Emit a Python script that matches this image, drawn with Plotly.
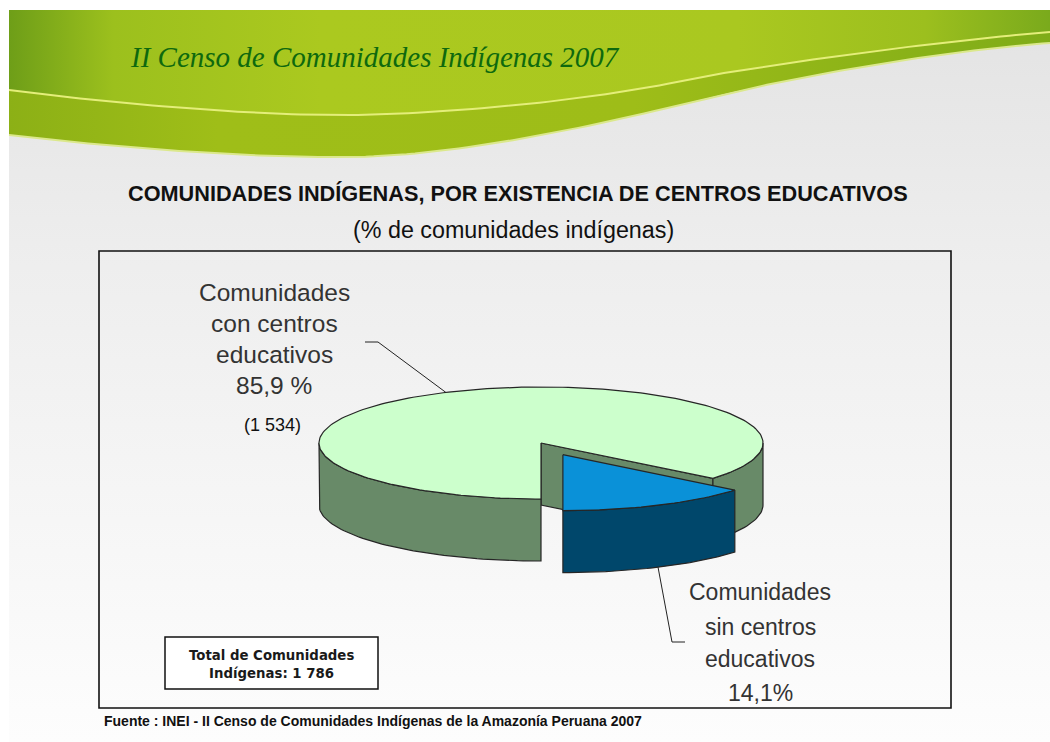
import numpy as np
import plotly.graph_objects as go

# ---------------- data ----------------
categories = ["Comunidades con centros educativos", "Comunidades sin centros educativos"]
percent = [85.9, 14.1]
label_pct = ["85,9 %", "14,1%"]
count_con = "(1 534)"
total_comunidades = "1 786"

title_banner = "II Censo de Comunidades Indígenas 2007"
chart_title = "COMUNIDADES INDÍGENAS, POR EXISTENCIA DE CENTROS EDUCATIVOS"
chart_subtitle = "(% de comunidades indígenas)"
source_text = "Fuente : INEI - II Censo de Comunidades Indígenas de la Amazonía Peruana 2007"

# ---------------- layout constants ----------------
W, H_FIG = 1050, 742
CX, CY = 541.0, 443.0      # pie centre (top face)
RA, RB = 222.0, 56.0       # ellipse semi-axes
DEPTH = 62.0               # pie thickness
START = 90.0               # degrees, screen coords (y down)
EXPLODE = [0.0, 0.23]
TOP_COL = ["#ccffcc", "#0a91d8"]
SIDE_COL = ["#688a68", "#00476b"]
EDGE = "#262626"

fig = go.Figure()


def add_poly(xs, ys, fill=None, line_col=None, lw=0.0, grad=None):
    kw = dict(x=list(xs) + [xs[0]], y=list(ys) + [ys[0]], mode="lines",
              fill="toself", hoverinfo="skip", showlegend=False,
              line=dict(color=line_col if line_col else "rgba(0,0,0,0)", width=lw))
    if grad is not None:
        kw["fillgradient"] = grad
    else:
        kw["fillcolor"] = fill
    fig.add_trace(go.Scatter(**kw))


def bez(p0, p1, p2, p3, n=40):
    t = np.linspace(0, 1, n)
    x = (1 - t) ** 3 * p0[0] + 3 * (1 - t) ** 2 * t * p1[0] + 3 * (1 - t) * t ** 2 * p2[0] + t ** 3 * p3[0]
    y = (1 - t) ** 3 * p0[1] + 3 * (1 - t) ** 2 * t * p1[1] + 3 * (1 - t) * t ** 2 * p2[1] + t ** 3 * p3[1]
    return list(x), list(y)


def curve(segs):
    xs, ys = [], []
    for s in segs:
        x, y = bez(*s)
        xs += x
        ys += y
    return xs, ys


# ---------------- background ----------------
add_poly([9, W, W, 9], [10, 10, H_FIG, H_FIG],
         grad=dict(type="vertical", start=10, stop=H_FIG,
                   colorscale=[[0, "#e3e3e3"], [0.35, "#eeeeee"], [1, "#fdfdfd"]]))

# ---------------- banner ----------------
hi_segs = [((9, 90), (100, 102), (250, 116), (350, 115)),
           ((350, 115), (450, 114), (600, 100), (700, 77)),
           ((700, 77), (800, 60), (950, 40), (1050, 32))]
lo_segs = [((9, 135), (120, 148), (250, 158), (350, 157)),
           ((350, 157), (450, 156), (580, 130), (700, 100)),
           ((700, 100), (800, 75), (950, 50), (1050, 43))]
hx, hy = curve(hi_segs)
lx, ly = curve(lo_segs)

add_poly([9, W] + hx[::-1], [10, 10] + hy[::-1],
         grad=dict(type="horizontal", start=9, stop=W,
                   colorscale=[[0, "#6e9e18"], [0.1, "#9cc01d"], [0.3, "#abc91f"],
                               [0.7, "#aac820"], [0.88, "#9cbf1e"], [1, "#7aaa1c"]]))
add_poly(hx + lx[::-1], hy + ly[::-1],
         grad=dict(type="horizontal", start=9, stop=W,
                   colorscale=[[0, "#8cb016"], [0.2, "#9fbe18"], [0.6, "#9ebd18"],
                               [1, "#7fac18"]]))
fig.add_trace(go.Scatter(x=hx, y=hy, mode="lines", hoverinfo="skip", showlegend=False,
                         line=dict(color="#e4ee7a", width=2)))
fig.add_trace(go.Scatter(x=lx, y=ly, mode="lines", hoverinfo="skip", showlegend=False,
                         line=dict(color="#dbe88c", width=2)))

# ---------------- 3D pie ----------------
def arc(t1, t2, ox, oy, dz=0.0, n=None):
    if n is None:
        n = max(4, int(abs(t2 - t1) / 1.5))
    t = np.radians(np.linspace(t1, t2, n))
    return list(CX + ox + RA * np.cos(t)), list(CY + oy + dz + RB * np.sin(t))


total = sum(percent)
slices = []
t = START
for i, p in enumerate(percent):
    span = 360.0 * p / total
    t1, t2 = t, t + span
    mid = np.radians((t1 + t2) / 2)
    ox = EXPLODE[i] * RA * np.cos(mid)
    oy = EXPLODE[i] * RB * np.sin(mid)
    slices.append((t1, t2, ox, oy, (t1 + t2) / 2))
    t = t2

for i, (t1, t2, ox, oy, tm) in enumerate(slices):
    cx, cy = CX + ox, CY + oy
    # radial walls
    for tt, vis in ((t1, -np.cos(np.radians(t1))), (t2, np.cos(np.radians(t2)))):
        if vis > 1e-6:
            px = cx + RA * np.cos(np.radians(tt))
            py = cy + RB * np.sin(np.radians(tt))
            add_poly([cx, px, px, cx], [cy, py, py + DEPTH, cy + DEPTH],
                     fill=SIDE_COL[i], line_col=EDGE, lw=1.2)
    # outer wall (front half only)
    for k in range(-1, 3):
        lo, hi = max(t1, 360 * k), min(t2, 360 * k + 180)
        if hi > lo:
            ax, ay = arc(lo, hi, ox, oy)
            bx, by = arc(hi, lo, ox, oy, DEPTH)
            add_poly(ax + bx, ay + by, fill=SIDE_COL[i], line_col=EDGE, lw=1.2)
    # top face
    ax, ay = arc(t1, t2, ox, oy)
    add_poly([cx] + ax, [cy] + ay, fill=TOP_COL[i], line_col=EDGE, lw=1.2)

# leader lines (anchored at mid angles of slices)
t1, t2, ox, oy, tm = slices[0]
ex = CX + ox + RA * np.cos(np.radians(tm))
ey = CY + oy + RB * np.sin(np.radians(tm))
fig.add_trace(go.Scatter(x=[365, 378, ex], y=[342, 342, ey], mode="lines", hoverinfo="skip",
                         showlegend=False, line=dict(color="#222222", width=1)))
t1, t2, ox, oy, tm = slices[1]
sx = CX + ox + RA * np.cos(np.radians(tm))
sy = CY + oy + DEPTH + RB * np.sin(np.radians(tm))
fig.add_trace(go.Scatter(x=[sx, 672, 685], y=[sy, 642, 642], mode="lines", hoverinfo="skip",
                         showlegend=False, line=dict(color="#222222", width=1)))

# ---------------- shapes ----------------
shapes = [
    dict(type="rect", xref="x", yref="y", x0=99, y0=251, x1=951, y1=708,
         line=dict(color="#111111", width=1.6), fillcolor="rgba(0,0,0,0)"),
    dict(type="rect", xref="x", yref="y", x0=165, y0=637, x1=378, y1=689,
         line=dict(color="#111111", width=1.5), fillcolor="#ffffff"),
]

# ---------------- annotations ----------------
ann = []


def txt(x, y, s, size, color="#333333", family="Liberation Sans", xanchor="center", bold=False,
        italic=False):
    if bold:
        s = "<b>" + s + "</b>"
    if italic:
        s = "<i>" + s + "</i>"
    ann.append(dict(x=x, y=y, xref="x", yref="y", text=s, showarrow=False, xanchor=xanchor,
                    yanchor="middle", font=dict(size=size, color=color, family=family)))


txt(128, 57, title_banner, 29, color="#0e690e", family="Liberation Serif", xanchor="left",
    italic=True)
txt(518, 193, chart_title, 21.7, color="#111111", family="Liberation Sans", bold=True)
txt(513, 230, chart_subtitle, 23.3, color="#111111")

up_lines = ["Comunidades", "con centros", "educativos", label_pct[0]]
for k, s in enumerate(up_lines):
    txt(274, 292 + 31 * k, s, 24.5)
txt(272, 425, count_con, 18, color="#111111")

low_lines = ["Comunidades", "sin centros", "educativos", label_pct[1]]
for k, (s, yy) in enumerate(zip(low_lines, [592, 627, 659, 693])):
    txt(760, yy, s, 23)

txt(271.5, 655, "Total de Comunidades", 13.3, color="#1a1a1a", family="DejaVu Sans", bold=True)
txt(271.5, 673, "Indígenas: " + total_comunidades, 13.3, color="#1a1a1a", family="DejaVu Sans",
    bold=True)

txt(102, 721, source_text, 14, color="#111111", xanchor="left", bold=True)

fig.update_layout(
    width=W, height=H_FIG, margin=dict(l=0, r=0, t=0, b=0),
    paper_bgcolor="#ffffff", plot_bgcolor="#ffffff",
    xaxis=dict(range=[0, W], visible=False, fixedrange=True),
    yaxis=dict(range=[H_FIG, 0], visible=False, fixedrange=True),
    shapes=shapes, annotations=ann, showlegend=False,
)

fig.write_html("out.html", post_script="document.body.style.margin='0';",
               config={"displayModeBar": False})
